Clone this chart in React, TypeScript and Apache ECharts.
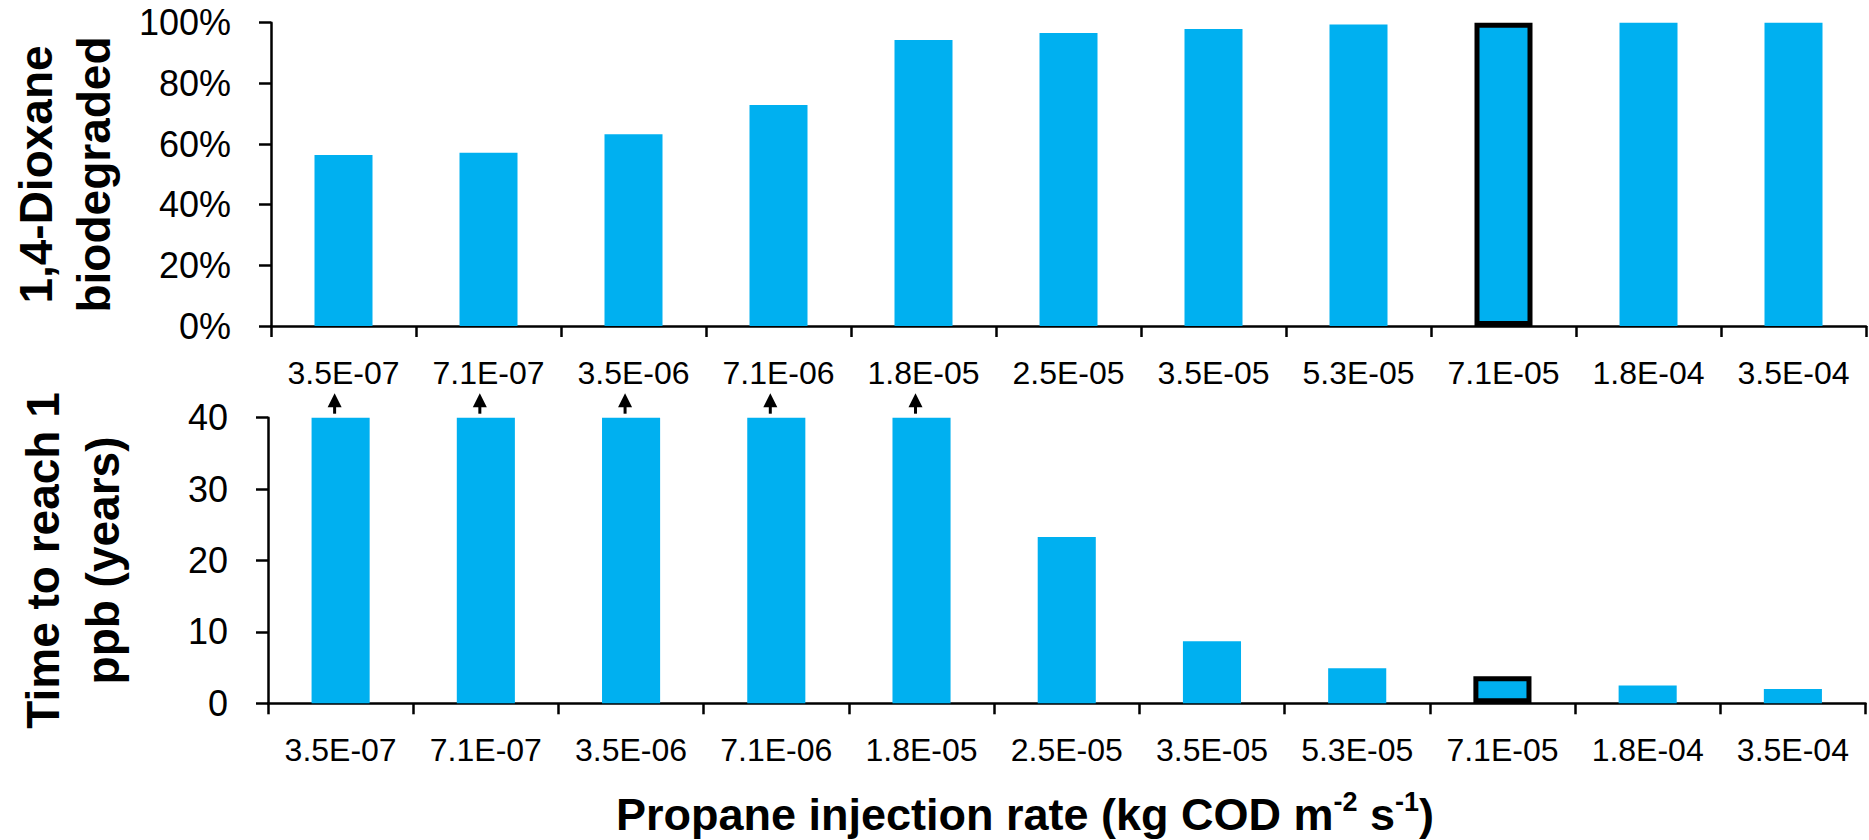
import { useEffect, useRef } from "react";
import * as echarts from "echarts";

// Propane injection rates (kg COD m^-2 s^-1), one bar per rate
const injectionRates = [
  "3.5E-07", "7.1E-07", "3.5E-06", "7.1E-06", "1.8E-05", "2.5E-05",
  "3.5E-05", "5.3E-05", "7.1E-05", "1.8E-04", "3.5E-04",
];

// 1,4-Dioxane biodegraded (%)
const biodegradedPct = [56.4, 57.1, 63.2, 72.9, 94.3, 96.6, 97.9, 99.4, 100, 100, 100];

// Time to reach 1 ppb (years); values at 40 are off-scale (> 40 years)
const yearsToOnePpb = [40, 40, 40, 40, 40, 23.3, 8.7, 4.9, 3.8, 2.5, 2.0];
const offScale = [true, true, true, true, true, false, false, false, false, false, false];

// Selected injection rate, drawn with a black outline
const selectedIndex = 8;

// Value axes
const pctAxis = { min: 0, max: 100, interval: 20 };
const yearsAxis = { min: 0, max: 40, interval: 10 };

const BLUE = "#00B0F0";
const FONT = "'Liberation Sans', Arial, sans-serif";

function barData(values: number[]) {
  return values.map((v, i) =>
    i === selectedIndex
      ? { value: v, itemStyle: { borderColor: "#000", borderWidth: 5 } }
      : v
  );
}

export default function App() {
  const ref = useRef<HTMLDivElement>(null);

  useEffect(() => {
    document.body.style.margin = "0";
    if (!ref.current) return;
    const chart = echarts.init(ref.current, undefined, { renderer: "svg" });

    const axisLine = { show: true, lineStyle: { color: "#000", width: 2.5 } };
    const tick = { show: true, length: 12, lineStyle: { color: "#000", width: 2.5 } };

    const categoryAxis = (gridIndex: number) => ({
      type: "category" as const,
      gridIndex,
      data: injectionRates,
      boundaryGap: true,
      axisLine,
      axisTick: { ...tick, length: 11, alignWithLabel: false },
      axisLabel: { color: "#000", fontSize: 32, fontFamily: FONT, margin: 31, interval: 0 },
    });

    const valueAxis = (gridIndex: number, range: { min: number; max: number; interval: number }, suffix: string) => ({
      type: "value" as const,
      gridIndex,
      ...range,
      splitLine: { show: false },
      axisLine,
      axisTick: tick,
      axisLabel: {
        color: "#000",
        fontSize: 36,
        fontFamily: FONT,
        margin: 40,
        formatter: (v: number) => `${v}${suffix}`,
      },
    });

    const arrowData = yearsToOnePpb
      .map((v, i) => (offScale[i] ? [i, v] : null))
      .filter((d) => d !== null);

    chart.setOption({
      animation: false,
      grid: [
        { left: 271, top: 22.7, width: 1595, height: 303.3 },
        { left: 268, top: 417.7, width: 1597.5, height: 285.6 },
      ],
      xAxis: [categoryAxis(0), categoryAxis(1)],
      yAxis: [valueAxis(0, pctAxis, "%"), valueAxis(1, yearsAxis, "")],
      series: [
        {
          type: "bar",
          xAxisIndex: 0,
          yAxisIndex: 0,
          barWidth: "40%",
          itemStyle: { color: BLUE },
          data: barData(biodegradedPct),
        },
        {
          type: "bar",
          xAxisIndex: 1,
          yAxisIndex: 1,
          barWidth: "40%",
          itemStyle: { color: BLUE },
          data: barData(yearsToOnePpb),
        },
        {
          // upward arrows over the off-scale bars
          type: "custom",
          xAxisIndex: 1,
          yAxisIndex: 1,
          clip: false,
          silent: true,
          data: arrowData,
          renderItem: (_params: any, api: any) => {
            const p = api.coord([api.value(0), api.value(1)]);
            const x = p[0] - 6;
            const y = p[1];
            return {
              type: "group",
              children: [
                {
                  type: "line",
                  shape: { x1: x, y1: y - 4, x2: x, y2: y - 12 },
                  style: { stroke: "#000", lineWidth: 3 },
                },
                {
                  type: "polygon",
                  shape: { points: [[x - 7, y - 10.5], [x + 7, y - 10.5], [x, y - 24.5]] },
                  style: { fill: "#000" },
                },
              ],
            };
          },
        },
      ],
      graphic: [
        {
          type: "text",
          x: 65,
          y: 174.5,
          rotation: Math.PI / 2,
          style: {
            text: "1,4-Dioxane\nbiodegraded",
            fill: "#000",
            fontSize: 46,
            fontWeight: "bold",
            fontFamily: FONT,
            lineHeight: 58,
            align: "center",
            verticalAlign: "middle",
          },
        },
        {
          type: "text",
          x: 73,
          y: 560.5,
          rotation: Math.PI / 2,
          style: {
            text: "Time to reach 1\nppb (years)",
            fill: "#000",
            fontSize: 46,
            fontWeight: "bold",
            fontFamily: FONT,
            lineHeight: 60,
            align: "center",
            verticalAlign: "middle",
          },
        },
        {
          type: "text",
          x: 1025,
          y: 814,
          style: {
            text: "{a|Propane injection rate (kg COD m}{s|-2}{a| s}{s|-1}{a|)}",
            align: "center",
            verticalAlign: "middle",
            rich: {
              a: { fontSize: 45, fontWeight: "bold", fontFamily: FONT, fill: "#000", lineHeight: 52 },
              s: {
                fontSize: 27,
                fontWeight: "bold",
                fontFamily: FONT,
                fill: "#000",
                lineHeight: 30,
                verticalAlign: "top",
              },
            },
          },
        },
      ],
    });

    return () => chart.dispose();
  }, []);

  return <div ref={ref} style={{ width: 1869, height: 840 }} />;
}
